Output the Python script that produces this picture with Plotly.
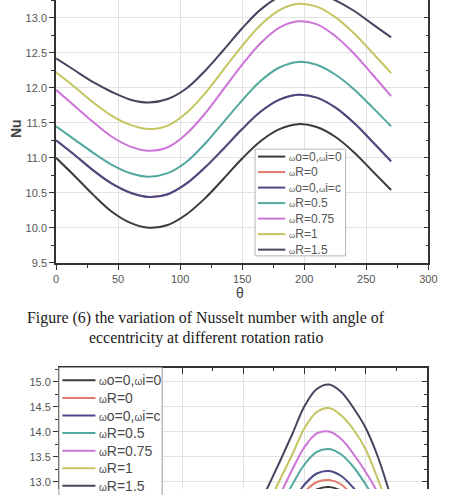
import plotly.graph_objects as go

# ---------------- data ----------------
series_names = ["ωo=0,ωi=0", "ωR=0", "ωo=0,ωi=c", "ωR=0.5", "ωR=0.75", "ωR=1", "ωR=1.5"]
series_colors = ["#3a3a3a", "#e07a6c", "#4a4a86", "#52a89e", "#cc74d8", "#c4c460", "#45455f"]

# Figure 6 : Nu vs theta
theta_top = [0, 15, 30, 45, 60, 75, 90, 105, 120, 135, 150, 165, 180, 195, 210, 225, 240, 255, 270]
nu6_w0 = [11.00, 10.74, 10.47, 10.23, 10.07, 10.00, 10.04, 10.19, 10.42, 10.70, 10.99, 11.24, 11.41, 11.48, 11.44, 11.30, 11.08, 10.81, 10.54]
nu6_r0 = [11.25, 11.04, 10.82, 10.63, 10.50, 10.44, 10.48, 10.63, 10.86, 11.13, 11.41, 11.66, 11.83, 11.90, 11.86, 11.72, 11.50, 11.23, 10.95]
nu6_wic = [11.25, 11.04, 10.82, 10.63, 10.50, 10.44, 10.48, 10.63, 10.86, 11.13, 11.41, 11.66, 11.83, 11.90, 11.86, 11.72, 11.50, 11.23, 10.95]
nu6_r05 = [11.45, 11.26, 11.07, 10.90, 10.78, 10.73, 10.78, 10.94, 11.20, 11.51, 11.82, 12.10, 12.29, 12.37, 12.33, 12.19, 11.98, 11.72, 11.45]
nu6_r075 = [11.97, 11.74, 11.51, 11.30, 11.16, 11.10, 11.15, 11.34, 11.63, 11.98, 12.33, 12.64, 12.86, 12.95, 12.91, 12.74, 12.49, 12.19, 11.88]
nu6_r1 = [12.22, 12.01, 11.79, 11.60, 11.47, 11.41, 11.46, 11.64, 11.92, 12.26, 12.60, 12.90, 13.11, 13.20, 13.16, 13.01, 12.78, 12.50, 12.21]
nu6_r15 = [12.42, 12.25, 12.08, 11.94, 11.83, 11.79, 11.84, 11.99, 12.24, 12.54, 12.85, 13.12, 13.30, 13.38, 13.35, 13.25, 13.10, 12.91, 12.72]

# Figure 7 (upper part visible only)
theta_bot = [150, 160, 170, 180, 190, 200, 210, 220, 230, 240, 250, 260, 270, 280, 290]
nu7_w0 = [10.80, 11.15, 11.50, 11.90, 12.30, 12.65, 12.85, 12.90, 12.82, 12.58, 12.28, 11.90, 11.50, 11.10, 10.70]
nu7_r0 = [10.90, 11.28, 11.66, 12.05, 12.45, 12.80, 13.00, 13.04, 12.95, 12.70, 12.40, 12.00, 11.60, 11.20, 10.80]
nu7_wic = [11.00, 11.40, 11.80, 12.20, 12.60, 12.95, 13.17, 13.22, 13.12, 12.88, 12.55, 12.15, 11.75, 11.35, 10.95]
nu7_r05 = [11.20, 11.65, 12.10, 12.50, 12.95, 13.35, 13.60, 13.66, 13.55, 13.30, 12.95, 12.55, 12.10, 11.65, 11.20]
nu7_r075 = [11.35, 11.85, 12.30, 12.75, 13.25, 13.70, 13.97, 14.01, 13.86, 13.56, 13.20, 12.78, 12.30, 11.80, 11.30]
nu7_r1 = [11.55, 12.05, 12.55, 13.05, 13.55, 14.08, 14.40, 14.48, 14.33, 14.05, 13.65, 13.05, 12.40, 11.75, 11.10]
nu7_r15 = [11.85, 12.38, 12.90, 13.42, 13.96, 14.52, 14.86, 14.95, 14.80, 14.48, 14.08, 13.50, 12.75, 12.00, 11.30]

caption_lines = ["Figure (6) the variation of Nusselt number with angle of",
                 "eccentricity at different rotation ratio"]

top_series = [nu6_w0, nu6_r0, nu6_wic, nu6_r05, nu6_r075, nu6_r1, nu6_r15]
bot_series = [nu7_w0, nu7_r0, nu7_wic, nu7_r05, nu7_r075, nu7_r1, nu7_r15]

# ---------------- layout helpers ----------------
W, H = 449, 495
def px(x):
    return x / W
def py(y):
    return 1 - y / H

AX = "#333333"
GRID = "#e2e2e2"
TICKFONT = dict(family="Liberation Sans, Arial", size=11, color="#555555")

fig = go.Figure()

for name, col, ys in zip(series_names, series_colors, top_series):
    fig.add_trace(go.Scatter(x=theta_top, y=ys, mode="lines", name=name,
                             line=dict(color=col, width=2, shape="spline", smoothing=1.0),
                             xaxis="x", yaxis="y", showlegend=False, hoverinfo="skip"))
for name, col, ys in zip(series_names, series_colors, bot_series):
    fig.add_trace(go.Scatter(x=theta_bot, y=ys, mode="lines", name=name,
                             line=dict(color=col, width=2, shape="spline", smoothing=1.0),
                             xaxis="x2", yaxis="y2", showlegend=False, hoverinfo="skip"))
# dummies so the mirrored (inside-tick) frame axes are drawn
fig.add_trace(go.Scatter(x=[None], y=[None], xaxis="x", yaxis="y3", showlegend=False, hoverinfo="skip"))
fig.add_trace(go.Scatter(x=[None], y=[None], xaxis="x4", yaxis="y4", showlegend=False, hoverinfo="skip"))

top_yr = [9.5, 13.254]
bot_yr = [12.86, 15.27]

def base_axis(**kw):
    d = dict(showline=True, linecolor=AX, linewidth=1.6, zeroline=False,
             tickcolor=AX, tickwidth=1.2, tickfont=TICKFONT, fixedrange=True)
    d.update(kw)
    return d

fig.update_layout(
    width=W, height=H, margin=dict(l=0, r=0, t=0, b=0),
    paper_bgcolor="white", plot_bgcolor="white", showlegend=False,
    xaxis=base_axis(domain=[px(54.5), px(437)], range=[0, 300], anchor="y",
                    ticks="outside", ticklen=5, dtick=50, tick0=0,
                    showgrid=True, gridcolor=GRID, gridwidth=1,
                    minor=dict(dtick=25, ticks="outside", ticklen=3, tickcolor=AX, showgrid=False)),
    yaxis=base_axis(domain=[py(266), 1], range=top_yr, anchor="x",
                    ticks="outside", ticklen=5, dtick=0.5, tick0=9.5, tickformat=".1f",
                    showgrid=True, gridcolor=GRID, gridwidth=1,
                    minor=dict(dtick=0.25, ticks="outside", ticklen=3, tickcolor=AX, showgrid=False)),
    yaxis3=base_axis(overlaying="y", side="right", anchor="x", range=top_yr,
                     ticks="inside", ticklen=5, dtick=0.5, tick0=9.5, showticklabels=False,
                     showgrid=False,
                     minor=dict(dtick=0.25, ticks="inside", ticklen=3, tickcolor=AX, showgrid=False)),
    xaxis2=dict(domain=[px(58.5), px(435.5)], range=[0, 300], anchor="y2",
                showline=False, zeroline=False, ticks="", showticklabels=False,
                dtick=50, tick0=0, showgrid=True, gridcolor=GRID, gridwidth=1, fixedrange=True),
    yaxis2=base_axis(domain=[0, py(373)], range=bot_yr, anchor="x2",
                     ticks="outside", ticklen=5, dtick=0.5, tick0=13.0, tickformat=".1f",
                     showgrid=True, gridcolor=GRID, gridwidth=1,
                     minor=dict(dtick=0.25, ticks="outside", ticklen=3, tickcolor=AX, showgrid=False)),
    xaxis4=base_axis(overlaying="x2", side="top", anchor="y4", range=[0, 300],
                     ticks="inside", ticklen=6, dtick=50, tick0=0, showticklabels=False,
                     showgrid=False,
                     minor=dict(dtick=25, ticks="inside", ticklen=3, tickcolor=AX, showgrid=False)),
    yaxis4=base_axis(overlaying="y2", side="right", anchor="x4", range=bot_yr,
                     ticks="inside", ticklen=5, dtick=0.5, tick0=13.0, showticklabels=False,
                     showgrid=False,
                     minor=dict(dtick=0.25, ticks="inside", ticklen=3, tickcolor=AX, showgrid=False)),
)

shapes = []
annotations = []

def fmt(name, size):
    small = max(size - 4, 7)
    return name.replace("ω", "<span style='font-size:%dpx'>ω</span>" % small)

# ---- top legend (manual) ----
shapes.append(dict(type="rect", xref="paper", yref="paper", x0=px(259), x1=px(352),
                   y0=py(259), y1=py(151), fillcolor="white",
                   line=dict(color="#b5b5b5", width=1), layer="above"))
for i, (name, col) in enumerate(zip(series_names, series_colors)):
    yy = 158.5 + 15.7 * i
    shapes.append(dict(type="line", xref="paper", yref="paper", x0=px(262), x1=px(290),
                       y0=py(yy), y1=py(yy), line=dict(color=col, width=2), layer="above"))
    annotations.append(dict(xref="paper", yref="paper", x=px(292), y=py(yy), xanchor="left",
                            yanchor="middle", showarrow=False, text=fmt(name, 12),
                            font=dict(family="Liberation Sans, Arial", size=12, color="#555555")))

# ---- bottom legend (manual) ----
shapes.append(dict(type="rect", xref="paper", yref="paper", x0=px(57.5), x1=px(163.5),
                   y0=py(520), y1=py(372), fillcolor="white",
                   line=dict(color="#9a9a9a", width=1), layer="above"))
for i, (name, col) in enumerate(zip(series_names, series_colors)):
    yy = 385 + 17.8 * i
    shapes.append(dict(type="line", xref="paper", yref="paper", x0=px(61), x1=px(95),
                       y0=py(yy), y1=py(yy), line=dict(color=col, width=2), layer="above"))
    annotations.append(dict(xref="paper", yref="paper", x=px(96.5), y=py(yy), xanchor="left",
                            yanchor="middle", showarrow=False, text=fmt(name, 14),
                            font=dict(family="Liberation Sans, Arial", size=14, color="#4a4a4a")))

# axis titles
annotations.append(dict(xref="paper", yref="paper", x=px(14), y=py(130), text="<b>Nu</b>",
                        textangle=-90, showarrow=False, xanchor="center", yanchor="middle",
                        font=dict(family="Liberation Sans, Arial", size=14, color="#444444")))
annotations.append(dict(xref="paper", yref="paper", x=px(243), y=py(297), text="θ",
                        showarrow=False, xanchor="center", yanchor="middle",
                        font=dict(family="Liberation Sans, Arial", size=14, color="#444444")))

# caption
for j, line in enumerate(caption_lines):
    annotations.append(dict(xref="paper", yref="paper", x=px(209), y=py(322 + 20 * j), text=line,
                            showarrow=False, xanchor="center", yanchor="middle",
                            font=dict(family="Liberation Serif, Times New Roman", size=15.9,
                                      color="#1a1a1a")))

fig.update_layout(shapes=shapes, annotations=annotations)
fig.write_html("out.html")
